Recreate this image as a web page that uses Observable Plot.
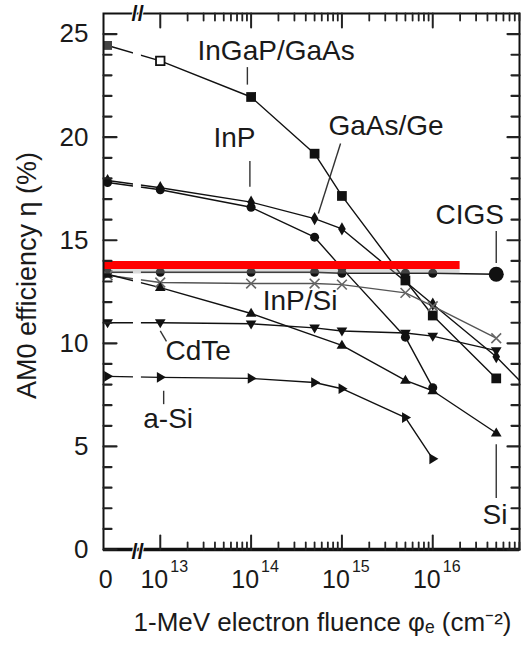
<!DOCTYPE html>
<html><head><meta charset="utf-8">
<script src="https://cdn.jsdelivr.net/npm/d3@7"></script>
<script src="https://cdn.jsdelivr.net/npm/@observablehq/plot@0.6"></script>
<style>body{margin:0;background:#fff} svg{display:block}</style>
</head><body><div id="chart"></div>
<script>
// ---- data (fluence in cm^-2, AM0 efficiency in %) ----
const inGaPGaAsX = [0, 1e13, 1e14, 5e14, 1e15, 5e15, 1e16, 5e16];
const inGaPGaAsY = [24.45, 23.7, 21.95, 19.2, 17.15, 13.05, 11.35, 8.3];
const gaAsGeX = [0, 1e13, 1e14, 5e14, 1e15, 1e16, 5e16, 1e17];
const gaAsGeY = [17.9, 17.55, 16.85, 16.05, 15.55, 11.9, 9.35, 8.0];
const inPX = [0, 1e13, 1e14, 5e14, 1e15, 5e15, 1e16];
const inPY = [17.8, 17.45, 16.6, 15.15, 13.65, 10.3, 7.85];
const cigsX = [0, 1e13, 1e14, 5e14, 1e15, 5e15, 1e16, 5e16];
const cigsY = [13.45, 13.45, 13.45, 13.45, 13.4, 13.4, 13.4, 13.35];
const inPSiX = [0, 1e13, 1e14, 5e14, 1e15, 5e15, 1e16, 5e16];
const inPSiY = [13.3, 12.95, 12.9, 12.9, 12.85, 12.45, 11.8, 10.25];
const cdTeX = [0, 1e13, 1e14, 5e14, 1e15, 5e15, 1e16, 5e16];
const cdTeY = [11.0, 11.0, 10.95, 10.75, 10.6, 10.5, 10.35, 9.65];
const aSiX = [0, 1e13, 1e14, 5e14, 1e15, 5e15, 1e16];
const aSiY = [8.4, 8.35, 8.3, 8.1, 7.8, 6.4, 4.4];
const siX = [0, 1e13, 1e14, 1e15, 5e15, 1e16, 5e16];
const siY = [13.35, 12.7, 11.45, 9.9, 8.2, 7.7, 5.65];

const seriesNames = ["InGaP/GaAs", "GaAs/Ge", "InP", "CIGS", "InP/Si", "CdTe", "a-Si", "Si"];
const seriesX = [inGaPGaAsX, gaAsGeX, inPX, cigsX, inPSiX, cdTeX, aSiX, siX];
const seriesY = [inGaPGaAsY, gaAsGeY, inPY, cigsY, inPSiY, cdTeY, aSiY, siY];

// reference line
const redLineY = 13.8;
const redLineTo = 2e16;

// tick labels
const yTicksMajor = [0, 5, 10, 15, 20, 25];
const yTickLabels = ["0", "5", "10", "15", "20", "25"];
const xTicksMajor = [1e13, 1e14, 1e15, 1e16];
const xTickExponents = ["13", "14", "15", "16"];

// annotations
const labelText = ["InGaP/GaAs", "InP", "GaAs/Ge", "CIGS", "InP/Si", "CdTe", "a-Si", "Si"];
const labelX = [2.57e13, 3.85e13, 7.1e14, 1.07e16, 1.34e14, 1.14e13, 6.5e12, 3.54e16];
const labelY = [24.16, 19.96, 20.52, 16.2, 12.03, 9.65, 6.35, 1.65];
const leaders = [
  {x1: 9.1e13, y1: 23.4, x2: 9.1e13, y2: 22.55},
  {x1: 9.7e13, y1: 18.85, x2: 9.7e13, y2: 17.6},
  {x1: 9.66e14, y1: 19.69, x2: 5.5e14, y2: 16.3},
  {x1: 5e16, y1: 15.45, x2: 5e16, y2: 13.9},
  {x1: 1e13, y1: 10.6, x2: 1.17e13, y2: 10.1},
  {x1: 1.09e13, y1: 7.7, x2: 1.09e13, y2: 7.05},
  {x1: 5e16, y1: 5.1, x2: 5e16, y2: 2.5}
];

// ---- layout / scale helpers ----
const zeroPos = 12.42;              // log10 position where fluence 0 is drawn (broken axis)
const xDomainLog = [12.375, 16.955];
const axisBreak = {from: 5.07e12, to: 6.2e12};
const xf = v => v === 0 ? zeroPos : Math.log10(v);

const rows = seriesNames.flatMap((name, k) => seriesX[k].map((x, i) => ({name, x, y: seriesY[k][i]})));

const xTicksMinor = [];
for (let d = 13; d <= 16; d++) for (let m = 2; m <= 9; m++) xTicksMinor.push(m * 10 ** d);
const yTicksMinor = d3.range(1, 26).filter(v => v % 5 !== 0);

const tickShape = {draw(context, l) { context.moveTo(0, 0); context.lineTo(0, -l); }};
const triUp = {draw(c, size) { const r = Math.sqrt(size / Math.PI) * 1.25; c.moveTo(0, -r); c.lineTo(r * 0.95, r * 0.6); c.lineTo(-r * 0.95, r * 0.6); c.closePath(); }};
const triDown = {draw(c, size) { const r = Math.sqrt(size / Math.PI) * 1.25; c.moveTo(0, r); c.lineTo(r * 0.95, -r * 0.6); c.lineTo(-r * 0.95, -r * 0.6); c.closePath(); }};
const triRight = {draw(c, size) { const r = Math.sqrt(size / Math.PI) * 1.25; c.moveTo(r, 0); c.lineTo(-r * 0.6, r * 0.95); c.lineTo(-r * 0.6, -r * 0.95); c.closePath(); }};

const markStyle = {
  "InGaP/GaAs": {symbol: "square", r: 5.5, fill: "#111"},
  "GaAs/Ge": {symbol: "diamond", r: 4, fill: "#111"},
  "InP": {symbol: "circle", r: 4.5, fill: "#111"},
  "CIGS": {symbol: "circle", r: 4.5, fill: "#111"},
  "InP/Si": {symbol: "times", r: 4.5, fill: "none", stroke: "#666", strokeWidth: 1.6},
  "CdTe": {symbol: triDown, r: 4.5, fill: "#111"},
  "a-Si": {symbol: triRight, r: 4.5, fill: "#111"},
  "Si": {symbol: triUp, r: 4.5, fill: "#111"}
};

const isSpecial = d => (d.name === "InGaP/GaAs" && (d.x === 1e13 || d.x === 0)) || (d.name === "CIGS" && d.x === 5e16);

const font = "Liberation Sans, Arial, Helvetica, sans-serif";

const chart = Plot.plot({
  width: 529, height: 647,
  marginLeft: 103, marginRight: 10, marginTop: 13, marginBottom: 98,
  x: {type: "linear", domain: xDomainLog, transform: xf, axis: null},
  y: {domain: [0, 26], axis: null},
  style: {fontFamily: font, background: "white", color: "#1a1a1a"},
  marks: [
    ...seriesNames.map(name => Plot.line(rows.filter(d => d.name === name), {
      x: "x", y: "y", stroke: name === "InP/Si" ? "#555" : "#111", strokeWidth: 1.4, clip: true
    })),
    Plot.rect([axisBreak], {x1: "from", x2: "to", y1: 0.15, y2: 25.85, fill: "white"}),
    Plot.link(leaders, {x1: "x1", y1: "y1", x2: "x2", y2: "y2", stroke: "#333", strokeWidth: 1.4}),
    ...seriesNames.map(name => Plot.dot(rows.filter(d => d.name === name && !isSpecial(d)), {
      x: "x", y: "y", clip: true, ...markStyle[name]
    })),
    Plot.dot(rows.filter(d => d.name === "InGaP/GaAs" && d.x === 1e13), {x: "x", y: "y", symbol: "square", r: 4.8, fill: "white", stroke: "#111", strokeWidth: 1.8}),
    Plot.dot(rows.filter(d => d.name === "InGaP/GaAs" && d.x === 0), {x: "x", y: "y", symbol: "square", r: 5, fill: "#444"}),
    Plot.dot(rows.filter(d => d.name === "CIGS" && d.x === 5e16), {x: "x", y: "y", symbol: "circle", r: 7.5, fill: "#111"}),
    // red reference line with soft shadow
    Plot.ruleY([{y: redLineY, x1: 10 ** xDomainLog[0], x2: redLineTo}], {y: "y", x1: "x1", x2: "x2", stroke: "#999", strokeOpacity: 0.35, strokeWidth: 5, dy: 6}),
    Plot.ruleY([{y: redLineY, x1: 10 ** xDomainLog[0], x2: redLineTo}], {y: "y", x1: "x1", x2: "x2", stroke: "#ff0000", strokeWidth: 8}),
    // frame and axes
    Plot.frame({stroke: "#111", strokeWidth: 2}),
    Plot.ruleY([0], {stroke: "#111", strokeWidth: 3.5}),
    Plot.vector(yTicksMajor, {y: d => d, frameAnchor: "left", rotate: 90, length: 13, anchor: "start", shape: tickShape, stroke: "#222", strokeWidth: 2.2}),
    Plot.vector(yTicksMinor, {y: d => d, frameAnchor: "left", rotate: 90, length: 8, anchor: "start", shape: tickShape, stroke: "#222", strokeWidth: 2.2}),
    Plot.vector(yTicksMajor, {y: d => d, frameAnchor: "right", rotate: -90, length: 12, anchor: "start", shape: tickShape, stroke: "#222", strokeWidth: 2.2}),
    Plot.vector(yTicksMinor, {y: d => d, frameAnchor: "right", rotate: -90, length: 8, anchor: "start", shape: tickShape, stroke: "#222", strokeWidth: 2.2}),
    Plot.vector(xTicksMajor, {x: d => d, frameAnchor: "bottom", rotate: 0, length: 14, anchor: "start", shape: tickShape, stroke: "#222", strokeWidth: 2}),
    Plot.vector(xTicksMinor, {x: d => d, frameAnchor: "bottom", rotate: 0, length: 7, anchor: "start", shape: tickShape, stroke: "#222", strokeWidth: 1.8}),
    Plot.vector(xTicksMajor, {x: d => d, frameAnchor: "top", rotate: 180, length: 14, anchor: "start", shape: tickShape, stroke: "#222", strokeWidth: 2}),
    Plot.vector(xTicksMinor, {x: d => d, frameAnchor: "top", rotate: 180, length: 7, anchor: "start", shape: tickShape, stroke: "#222", strokeWidth: 1.8}),
    // axis break marks
    Plot.text([(axisBreak.from + axisBreak.to) / 2], {x: d => d, frameAnchor: "bottom", text: () => "//", fontSize: 22, fontWeight: "bold", textAnchor: "middle", lineAnchor: "middle", fill: "#111", stroke: "white", strokeWidth: 2, dy: 2}),
    Plot.text([(axisBreak.from + axisBreak.to) / 2], {x: d => d, frameAnchor: "top", text: () => "//", fontSize: 22, fontWeight: "bold", textAnchor: "middle", lineAnchor: "middle", fill: "#111", stroke: "white", strokeWidth: 2, dy: 0}),
    // tick labels
    Plot.text(yTicksMajor, {y: d => d, frameAnchor: "left", dx: -15, text: (d, i) => yTickLabels[i], textAnchor: "end", lineAnchor: "middle", fontSize: 26, fill: "#1a1a1a"}),
    Plot.text([0], {x: d => d, frameAnchor: "bottom", dy: 30, dx: -2, text: () => "0", textAnchor: "middle", lineAnchor: "middle", fontSize: 25, fill: "#1a1a1a"}),
    Plot.text(xTicksMajor, {x: d => d, frameAnchor: "bottom", dy: 30, dx: 8, text: () => "10", textAnchor: "end", lineAnchor: "middle", fontSize: 25, fill: "#1a1a1a"}),
    Plot.text(xTicksMajor, {x: d => d, frameAnchor: "bottom", dy: 17, dx: 10, text: (d, i) => xTickExponents[i], textAnchor: "start", lineAnchor: "middle", fontSize: 16, fill: "#1a1a1a"}),
    // axis titles
    Plot.text(["AM0 efficiency η (%)"], {frameAnchor: "left", dx: -76, dy: -6, rotate: -90, text: d => d, textAnchor: "middle", lineAnchor: "middle", fontSize: 27, fill: "#1a1a1a"}),
    Plot.text(["1-MeV electron fluence φₑ (cm⁻²)"], {frameAnchor: "bottom", dx: 11, dy: 73, text: d => d, textAnchor: "middle", lineAnchor: "middle", fontSize: 26, fill: "#1a1a1a"}),
    // series labels
    Plot.text(labelText, {x: (d, i) => labelX[i], y: (d, i) => labelY[i], text: d => d, textAnchor: "start", lineAnchor: "middle", fontSize: 28, fill: "#1a1a1a"})
  ]
});
document.getElementById("chart").append(chart);
</script>
</body></html>
